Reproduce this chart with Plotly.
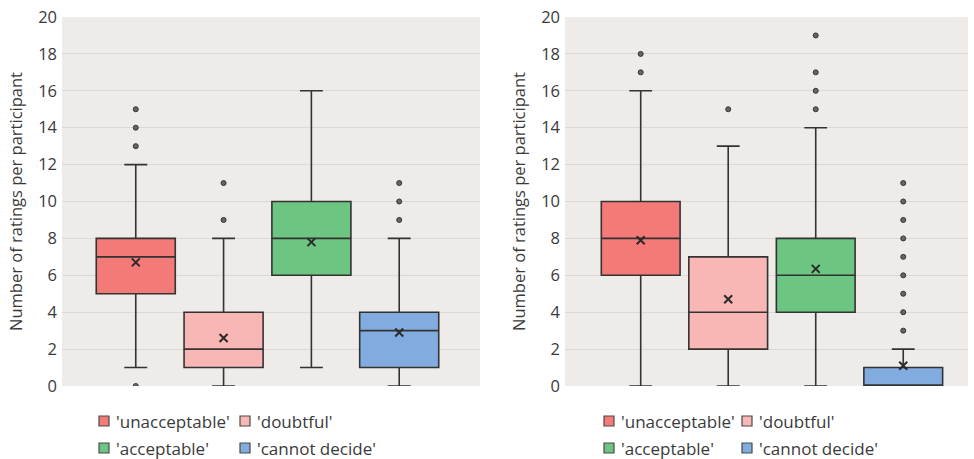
import plotly.graph_objects as go

categories = ["'unacceptable'", "'doubtful'", "'acceptable'", "'cannot decide'"]
colors = ["#f47a78", "#f8b6b4", "#6cc581", "#82ace0"]

# Left panel statistics
left_q1 = [5, 1, 6, 1]
left_median = [7, 2, 8, 3]
left_q3 = [8, 4, 10, 4]
left_low = [1, 0, 1, 0]
left_high = [12, 8, 16, 8]
left_mean = [6.7, 2.6, 7.8, 2.9]
left_outliers = [[0, 13, 14, 15], [9, 11], [], [9, 10, 11]]

# Right panel statistics
right_q1 = [6, 2, 4, 0]
right_median = [8, 4, 6, 0]
right_q3 = [10, 7, 8, 1]
right_low = [0, 0, 0, 0]
right_high = [16, 13, 14, 2]
right_mean = [7.9, 4.7, 6.35, 1.1]
right_outliers = [[17, 18], [15], [15, 16, 17, 19], [3, 4, 5, 6, 7, 8, 9, 10, 11]]

y_ticks = list(range(0, 21, 2))

fig = go.Figure()
LINE = "#333333"
TXT = "#3a3a3a"


def add_panel(xa, ya, q1, med, q3, low, high, mean, outl):
    for i, cat in enumerate(categories):
        fig.add_trace(go.Box(
            x=[i], q1=[q1[i]], median=[med[i]], q3=[q3[i]],
            lowerfence=[low[i]], upperfence=[high[i]],
            name=cat, width=0.9, whiskerwidth=0.29,
            fillcolor=colors[i], line=dict(color=LINE, width=1.6),
            xaxis=xa, yaxis=ya, showlegend=False,
            boxpoints=False, hoverinfo="skip",
        ))
        if outl[i]:
            fig.add_trace(go.Scatter(
                x=[i] * len(outl[i]), y=outl[i], mode="markers",
                marker=dict(size=5, color="#666666", line=dict(color="#333333", width=1)),
                xaxis=xa, yaxis=ya, showlegend=False, hoverinfo="skip",
            ))
    fig.add_trace(go.Scatter(
        x=list(range(len(categories))), y=mean, mode="markers",
        marker=dict(symbol="x-thin", size=8, line=dict(color="#2a2a2a", width=2)),
        xaxis=xa, yaxis=ya, showlegend=False, hoverinfo="skip",
    ))


add_panel("x", "y", left_q1, left_median, left_q3, left_low, left_high, left_mean, left_outliers)
add_panel("x2", "y2", right_q1, right_median, right_q3, right_low, right_high, right_mean, right_outliers)

W, H = 974, 459
plot_left, plot_right, plot_top, plot_bottom = 62, 968, 17, 386  # px
ml = plot_left
mt = plot_top
mr = W - plot_right
mb = H - plot_bottom
pw = W - ml - mr
ph = H - mt - mb


def px_x(px):
    return (px - plot_left) / pw


def px_y(py):
    return (plot_bottom - py) / ph


def dom(a, b):
    return [px_x(a), px_x(b)]


yaxis_common = dict(
    range=[0, 20], tickvals=y_ticks, ticktext=[str(v) for v in y_ticks],
    showgrid=True, gridcolor="#dcd8d5", gridwidth=1, zeroline=False,
    showline=False, ticks="", automargin=False, ticklabelstandoff=4,
    ticklabeloverflow="allow",
    tickfont=dict(size=16.5, color=TXT),
    title=dict(text="Number of ratings per participant", font=dict(size=16.5, color=TXT), standoff=11),
)

# Manual legends (two columns, two rows) under each panel
legend_cols = {"left": [104, 245], "right": [609, 747]}
legend_rows = [421, 448]
shapes = []
annotations = []
for side in ["left", "right"]:
    for i, cat in enumerate(categories):
        cx = legend_cols[side][i % 2]
        cy = legend_rows[i // 2]
        shapes.append(dict(
            type="rect", xref="paper", yref="paper",
            x0=px_x(cx - 5), x1=px_x(cx + 5), y0=px_y(cy + 5), y1=px_y(cy - 5),
            fillcolor=colors[i], line=dict(color="#4a4a4a", width=1.2),
        ))
        annotations.append(dict(
            text=cat, xref="paper", yref="paper", x=px_x(cx + 10), y=px_y(cy),
            xanchor="left", yanchor="middle", showarrow=False,
            font=dict(size=17, color=TXT),
        ))

fig.update_layout(
    width=W, height=H,
    margin=dict(l=ml, r=mr, t=mt, b=mb, autoexpand=False),
    paper_bgcolor="white", plot_bgcolor="#eeebe9",
    font=dict(family="Open Sans, sans-serif", color=TXT),
    showlegend=False,
    xaxis=dict(domain=dom(62, 480), range=[-0.84, 3.92], showticklabels=False,
               showgrid=False, zeroline=False, ticks=""),
    xaxis2=dict(domain=dom(565, 968), range=[-0.865, 3.74], showticklabels=False,
                showgrid=False, zeroline=False, ticks=""),
    yaxis=dict(anchor="x", **yaxis_common),
    yaxis2=dict(anchor="x2", **yaxis_common),
    shapes=shapes,
    annotations=annotations,
)

fig.write_html(
    "out.html",
    config={"displayModeBar": False},
    post_script="document.body.style.margin='0';document.body.style.padding='0';",
)
